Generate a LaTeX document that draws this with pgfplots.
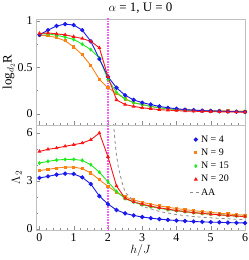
\documentclass[border=0pt]{standalone}
\usepackage{fontspec}
\setmainfont{Liberation Serif}
\usepackage{pgfplots}
\pgfplotsset{compat=1.18}
\usepackage{pgfplotstable}
\definecolor{cblue}{RGB}{25,25,235}
\definecolor{corange}{RGB}{250,130,20}
\definecolor{cgreen}{RGB}{30,235,30}
\definecolor{cred}{RGB}{250,20,20}
\definecolor{vmagenta}{RGB}{245,95,245}

\pgfplotstableread{
x    b     o     g     r
0    0.85  0.845 0.86  0.865
0.25 0.90  0.84  0.86  0.87
0.5  0.945 0.82  0.845 0.86
0.75 0.965 0.785 0.825 0.85
1.0  0.955 0.72  0.80  0.83
1.25 0.90  0.635 0.75  0.81
1.5  0.78  0.52  0.69  0.78
1.75 0.59  0.37  0.60  0.71
2.0  0.40  0.28  0.37  0.40
2.25 0.28  0.22  0.23  0.15
2.5  0.20  0.16  0.16  0.10
2.75 0.15  0.12  0.12  0.08
3.0  0.12  0.10  0.10  0.065
3.25 0.10  0.08  0.08  0.055
3.5  0.08  0.065 0.065 0.045
3.75 0.065 0.055 0.055 0.04
4.0  0.055 0.05  0.045 0.035
4.25 0.045 0.045 0.04  0.03
4.5  0.04  0.04  0.035 0.028
4.75 0.035 0.037 0.032 0.026
5.0  0.03  0.035 0.03  0.024
5.25 0.028 0.033 0.028 0.022
5.5  0.025 0.031 0.026 0.02
5.75 0.023 0.03  0.024 0.019
6.0  0.021 0.029 0.022 0.018
}\toptab

\pgfplotstableread{
x    b     o     g     r
0    3.19  3.65  4.12  4.85
0.25 3.29  3.73  4.23  4.98
0.5  3.40  3.81  4.31  5.06
0.75 3.46  3.87  4.35  5.17
1.0  3.44  3.87  4.35  5.27
1.25 3.23  3.77  4.29  5.37
1.5  2.81  3.50  4.02  5.58
1.75 2.06  3.08  3.55  6.00
2.0  1.56  2.67  2.95  4.52
2.25 1.19  2.30  2.35  2.69
2.5  0.98  2.00  1.90  1.92
2.75 0.85  1.82  1.68  1.70
3.0  0.75  1.67  1.52  1.55
3.25 0.68  1.55  1.40  1.43
3.5  0.62  1.45  1.30  1.33
3.75 0.57  1.36  1.21  1.24
4.0  0.53  1.28  1.14  1.16
4.25 0.50  1.21  1.08  1.09
4.5  0.47  1.15  1.02  1.03
4.75 0.45  1.09  0.97  0.98
5.0  0.43  1.04  0.93  0.93
5.25 0.42  0.99  0.89  0.89
5.5  0.40  0.94  0.85  0.85
5.75 0.39  0.90  0.81  0.81
6.0  0.38  0.86  0.78  0.78
}\bottab

\pgfplotstableread{
x    y
2.15 7.0
2.2  5.6
2.25 4.6
2.3  3.9
2.4  3.0
2.5  2.3
2.75 1.75
3.0  1.42
3.5  1.10
4.0  0.90
4.5  0.78
5.0  0.70
5.5  0.64
6.0  0.58
}\aatab

\pgfplotsset{
  panel/.style={
    scale only axis, width=209bp, xmin=-0.1, xmax=6,
    axis line style={black!25}, tick style={black!45},
    tick align=inside, major tick length=3.5bp, minor tick length=1.8bp,
    xtick pos=left, ytick pos=left,
    xtick={0,1,2,3,4,5,6}, minor x tick num=4,
    /pgf/number format/assume math mode=true,
    ticklabel style={font=\fontsize{12}{13}\selectfont},
    label style={font=\fontsize{13}{14}\selectfont},
    every axis plot/.append style={line width=0.9pt},
  },
  shortleg/.style={legend image code/.code={\draw[##1] (0.1cm,0cm) -- (0.4cm,0cm);}},
}

\begin{document}
\begin{tikzpicture}
\useasboundingbox (-36bp,-30bp) rectangle (213bp,230bp);

% bottom panel
\begin{axis}[panel, height=105bp, at={(0,0)},
  ymin=-0.06, ymax=6.5, ytick={0,3,6}, minor y tick num=2,
  xlabel={$h/J$}, ylabel={$\Lambda_2$},
  xlabel style={yshift=4bp}, ylabel style={yshift=-2bp},
  legend style={draw=none, fill=none, at={(0.73,0.93)}, anchor=north west,
    font=\fontsize{10}{10}\selectfont, row sep=1.2pt, inner sep=1pt},
  legend cell align=left]
\addplot[draw=vmagenta, line width=1.3pt, dash pattern=on 1pt off 0.6pt, forget plot] coordinates {(2,-1) (2,10)};
\addplot[cblue, mark=*, mark size=1.7pt, forget plot] table[x=x,y=b] {\bottab};
\addplot[corange, mark=square*, mark size=1.1pt, forget plot] table[x=x,y=o] {\bottab};
\addplot[cgreen, mark=diamond*, mark size=1.4pt, forget plot] table[x=x,y=g] {\bottab};
\addplot[cred, mark=triangle*, mark size=1.4pt, forget plot] table[x=x,y=r] {\bottab};
\addplot[black!45, dashed, line width=0.8pt, forget plot] table[x=x,y=y] {\aatab};
\addlegendimage{only marks, cblue, mark=*, mark size=1.7pt}
\addlegendentry{N = 4}
\addlegendimage{only marks, corange, mark=square*, mark size=1.1pt}
\addlegendentry{N = 9}
\addlegendimage{only marks, cgreen, mark=diamond*, mark size=1.4pt}
\addlegendentry{N = 15}
\addlegendimage{only marks, cred, mark=triangle*, mark size=1.4pt}
\addlegendentry{N = 20}
\addlegendimage{black!45, dashed, line width=0.8pt, shortleg}
\addlegendentry{AA}
\end{axis}

% top panel
\begin{axis}[panel, height=106bp, at={(0,105bp)},
  ymin=-0.12, ymax=1.02, ytick={0,0.5,1}, minor y tick num=1,
  xticklabels={}, ylabel={log$_{d_2}$R}, ylabel style={yshift=-4bp},
  yticklabel style={/pgf/number format/fixed},
  title={$\alpha$ = 1, U = 0}, title style={font=\fontsize{13}{14}\selectfont, yshift=-4bp}]
\addplot[draw=vmagenta, line width=1.3pt, dash pattern=on 1pt off 0.6pt] coordinates {(2,-1) (2,2)};
\addplot[corange, mark=square*, mark size=1.1pt] table[x=x,y=o] {\toptab};
\addplot[cgreen, mark=diamond*, mark size=1.4pt] table[x=x,y=g] {\toptab};
\addplot[cblue, mark=*, mark size=1.7pt] table[x=x,y=b] {\toptab};
\addplot[cred, mark=triangle*, mark size=1.4pt] table[x=x,y=r] {\toptab};
\end{axis}
\end{tikzpicture}
\end{document}
